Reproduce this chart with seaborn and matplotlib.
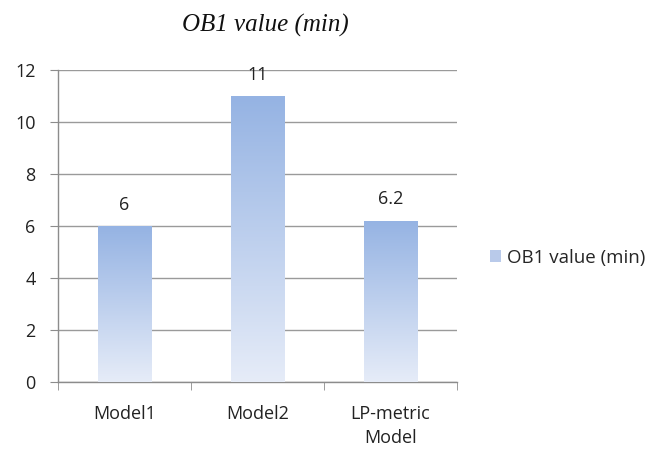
import matplotlib
matplotlib.use("Agg")
import matplotlib.pyplot as plt
import matplotlib.colors as mcolors
import matplotlib.patches as mpatches
import numpy as np
import pandas as pd
import seaborn as sns

modelos = ["Model1", "Model2", "LP-metric\nModel"]
valores = [6, 11, 6.2]
etiquetas = ["6", "11", "6.2"]
serie = "OB1 value (min)"

df = pd.DataFrame({"modelo": modelos, "valor": valores})

sns.set_style("white")
plt.rcParams["font.family"] = ["Open Sans", "DejaVu Sans"]

fig = plt.figure(figsize=(6.51, 4.5), dpi=100)
ax = fig.add_axes([0.089, 0.151, 0.613, 0.693])

sns.barplot(data=df, x="modelo", y="valor", color="#A9BFE6", width=0.4,
            ax=ax, zorder=3)

# gradiente dentro de cada barra
grad = mcolors.LinearSegmentedColormap.from_list("g", ["#E6ECF8", "#95B3E3"])
img = np.linspace(0, 1, 256).reshape(-1, 1)
for bar in ax.patches:
    x0, y0 = bar.get_x(), bar.get_y()
    w, h = bar.get_width(), bar.get_height()
    bar.set_edgecolor("white")
    bar.set_linewidth(0.6)
    im = ax.imshow(img, cmap=grad, origin="lower", aspect="auto",
                   extent=[x0, x0 + w, y0, y0 + h], zorder=3.5)
    im.set_clip_path(bar)

for i, (v, t) in enumerate(zip(valores, etiquetas)):
    ax.annotate(t, (i, v), xytext=(0, 9), textcoords="offset points",
                ha="center", va="bottom", fontsize=13, color="#222222")

ax.set_xlim(-0.5, 2.5)
ax.set_ylim(0, 12)
ax.set_yticks(range(0, 13, 2))
ax.yaxis.grid(True, color="#9A9A9A", linewidth=1, zorder=0)
ax.set_axisbelow(True)
ax.set(xlabel=None, ylabel=None)

for s in ["top", "right"]:
    ax.spines[s].set_visible(False)
for s in ["left", "bottom"]:
    ax.spines[s].set_color("#8C8C8C")
    ax.spines[s].set_linewidth(1)

ax.tick_params(axis="y", left=True, length=6, color="#8C8C8C",
               labelsize=13, labelcolor="#222222", pad=10)
ax.tick_params(axis="x", bottom=False, labelsize=13, labelcolor="#222222", pad=13)
for lbl in ax.get_xticklabels():
    lbl.set_linespacing(1.45)
ax.set_xticks([-0.5, 0.5, 1.5, 2.5], minor=True)
ax.tick_params(axis="x", which="minor", bottom=True, length=6, color="#8C8C8C")

fig.text(0.407, 0.944, serie, ha="center", va="center", fontsize=18,
         fontstyle="italic", family="Liberation Serif", color="#111111")

handle = mpatches.Patch(facecolor="#B9CAEA", edgecolor="none", label=serie)
fig.legend(handles=[handle], loc="center left", bbox_to_anchor=(0.752, 0.427),
           frameon=False, fontsize=13.5, handlelength=0.6, handleheight=0.6,
           handletextpad=0.35, borderaxespad=0, borderpad=0)

plt.savefig("out.png", dpi=100)
plt.close()
